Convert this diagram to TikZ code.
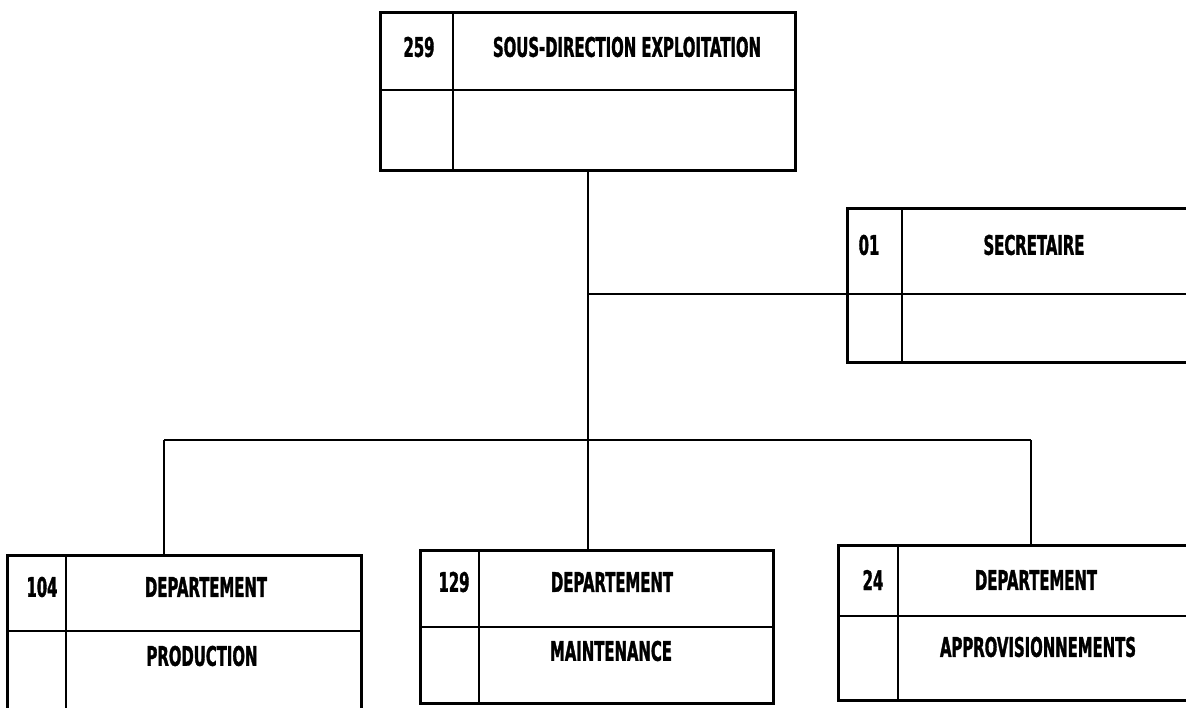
\documentclass[tikz,border=0pt]{standalone}
\usepackage{fontspec}
\setmainfont{DejaVu Sans}[FakeStretch=0.55,BoldFeatures={FakeBold=1.2}]
\begin{document}
\begin{tikzpicture}[x=1pt,y=-1pt,
  box/.style={draw,line width=3pt,rectangle,inner sep=0pt,outer sep=0pt},
  div/.style={line width=2.8pt},
  link/.style={line width=2.2pt},
  lbl/.style={font=\fontsize{27}{27}\selectfont\bfseries,inner sep=0pt,anchor=center}]
\useasboundingbox (0,0) rectangle (1186,707);
\fill[white] (0,0) rectangle (1186,707);
\clip (0,0) rectangle (1186,707);
% boxes
\node[box,minimum width=415pt,minimum height=158pt] (top) at (587.5,91) {};
\node[box,minimum width=360pt,minimum height=154pt] (sec) at (1027,285) {};
\node[box,minimum width=354pt,minimum height=170pt] (prod) at (184,640) {};
\node[box,minimum width=353pt,minimum height=153pt] (maint) at (596.5,626.5) {};
\node[box,minimum width=362pt,minimum height=155pt] (appro) at (1019,622.5) {};
% dividers
\draw[div] (top.west |- 0,90) -- (top.east |- 0,90);
\draw[div] (453,0 |- top.north) -- (453,0 |- top.south);
\draw[div] (sec.west |- 0,294) -- (sec.east |- 0,294);
\draw[div] (902,0 |- sec.north) -- (902,0 |- sec.south);
\draw[div] (prod.west |- 0,631) -- (prod.east |- 0,631);
\draw[div] (66,0 |- prod.north) -- (66,0 |- prod.south);
\draw[div] (maint.west |- 0,627) -- (maint.east |- 0,627);
\draw[div] (479,0 |- maint.north) -- (479,0 |- maint.south);
\draw[div] (appro.west |- 0,616) -- (appro.east |- 0,616);
\draw[div] (898,0 |- appro.north) -- (898,0 |- appro.south);
% connectors
\coordinate (j1) at (588,294);
\coordinate (j2) at (588,440);
\coordinate (jl) at (164,440);
\coordinate (jr) at (1031,440);
\draw[link] (top.south -| j1) -- (j1) -- (j2);
\draw[link] (j1) -- (sec.west |- j1);
\draw[link] (jl) -- (jr);
\draw[link] (jl) -- (jl |- prod.north);
\draw[link] (j2) -- (j2 |- maint.north);
\draw[link] (jr) -- (jr |- appro.north);
% labels
\node[lbl] (t1) at (419,47) {259};
\node[lbl] (t2) at (627,47) {SOUS-DIRECTION EXPLOITATION};
\node[lbl] (s1) at (869,245) {01};
\node[lbl] (s2) at (1034,245) {SECRETAIRE};
\node[lbl] (p1) at (42,587) {104};
\node[lbl] (p2) at (206,587) {DEPARTEMENT};
\node[lbl] (p3) at (202,656) {PRODUCTION};
\node[lbl] (m1) at (454,582) {129};
\node[lbl] (m2) at (612,582) {DEPARTEMENT};
\node[lbl] (m3) at (611,651) {MAINTENANCE};
\node[lbl] (a1) at (873,580) {24};
\node[lbl] (a2) at (1036,580) {DEPARTEMENT};
\node[lbl] (a3) at (1038,647) {APPROVISIONNEMENTS};
\end{tikzpicture}
\end{document}
